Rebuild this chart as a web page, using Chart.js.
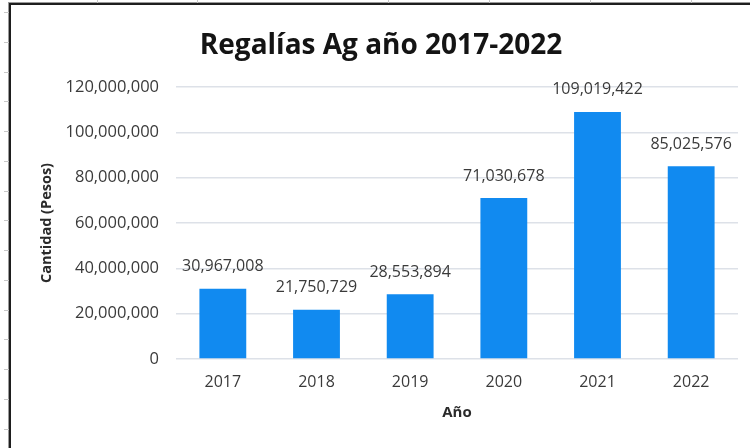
<!DOCTYPE html>
<html>
<head>
<meta charset="utf-8">
<title>Regalías Ag año 2017-2022</title>
<script src="https://cdn.jsdelivr.net/npm/chart.js@4/dist/chart.umd.min.js"></script>
<style>
  html, body { margin: 0; padding: 0; background: #fff; }
  #wrap { position: relative; width: 750px; height: 448px; overflow: hidden; }
  #frame {
    position: absolute; left: 9px; top: 3px; right: -4px; bottom: -4px;
    border-left: 2px solid #1e1e1e; border-top: 2px solid #1e1e1e;
    box-shadow: -1px -1px 0 #9a9a9a; pointer-events: none;
  }
  .cell-v { position: absolute; top: 0; width: 1px; height: 3px; background: #c8c8c8; }
  .cell-h { position: absolute; left: 4px; width: 5px; height: 1px; background: #c8c8c8; }
</style>
</head>
<body>
<div id="wrap">
  <canvas id="regaliasChart" width="750" height="448"></canvas>
  <div id="frame"></div>
</div>
<script>
const years = ['2017', '2018', '2019', '2020', '2021', '2022'];
const pesos = [30967008, 21750729, 28553894, 71030678, 109019422, 85025576];
const yTicks = [0, 20000000, 40000000, 60000000, 80000000, 100000000, 120000000];

// spreadsheet cell lines peeking out around the chart frame
const wrap = document.getElementById('wrap');
[97, 197, 388, 489, 590, 691].forEach(x => {
    const d = document.createElement('div');
    d.className = 'cell-v';
    d.style.left = x + 'px';
    wrap.appendChild(d);
});
for (let y = 12; y < 448; y += 29.75) {
    const d = document.createElement('div');
    d.className = 'cell-h';
    d.style.top = Math.round(y) + 'px';
    wrap.appendChild(d);
}

const fmt = v => v.toLocaleString('en-US');

// value labels above each bar
const barValues = {
    id: 'barValues',
    afterDatasetsDraw(chart) {
        const ctx = chart.ctx;
        const meta = chart.getDatasetMeta(0);
        ctx.save();
        ctx.font = '16px "Open Sans"';
        ctx.fillStyle = '#3a3a3a';
        ctx.textAlign = 'center';
        ctx.textBaseline = 'middle';
        meta.data.forEach((bar, i) => {
            ctx.fillText(fmt(chart.data.datasets[0].data[i]), bar.x, bar.y - 22);
        });
        ctx.restore();
    }
};

const ctx = document.getElementById('regaliasChart').getContext('2d');
new Chart(ctx, {
    type: 'bar',
    data: {
        labels: years,
        datasets: [{
            label: 'Cantidad (Pesos)',
            data: pesos,
            backgroundColor: '#118af0',
            borderWidth: 0,
            barPercentage: 0.5,
            categoryPercentage: 1
        }]
    },
    plugins: [barValues],
    options: {
        responsive: false,
        animation: false,
        layout: { padding: { left: 24, right: 12, top: 0, bottom: 0 } },
        plugins: {
            legend: { display: false },
            tooltip: { enabled: false },
            title: {
                display: true,
                text: 'Regalías Ag año 2017-2022',
                color: '#141414',
                font: { family: '"Open Sans"', size: 28, weight: 'bold' },
                padding: { top: 29, bottom: 24.4 }
            }
        },
        scales: {
            x: {
                grid: { display: false, drawTicks: false },
                border: { display: false },
                ticks: {
                    color: '#3a3a3a',
                    font: { family: '"Open Sans"', size: 16 },
                    padding: 14
                },
                title: {
                    display: true,
                    text: 'Año',
                    color: '#2a2a2a',
                    font: { family: '"Open Sans"', size: 15, weight: 'bold' },
                    padding: { top: 0, bottom: 26 }
                },
                afterFit(scale) { scale.height = 89; }
            },
            y: {
                min: 0,
                max: 120000000,
                afterBuildTicks(scale) {
                    scale.ticks = yTicks.map(v => ({ value: v }));
                },
                grid: { color: '#dde1e8', lineWidth: 1.5, drawTicks: false },
                border: { display: false },
                ticks: {
                    color: '#3a3a3a',
                    font: { family: '"Open Sans"', size: 16.5 },
                    padding: 17,
                    callback: v => fmt(v)
                },
                title: {
                    display: true,
                    text: 'Cantidad (Pesos)',
                    color: '#2a2a2a',
                    font: { family: '"Open Sans"', size: 14.5, weight: 'bold' },
                    padding: { top: 14, bottom: 0 }
                },
                afterFit(scale) { scale.width = 152; }
            }
        }
    }
});
</script>
</body>
</html>
